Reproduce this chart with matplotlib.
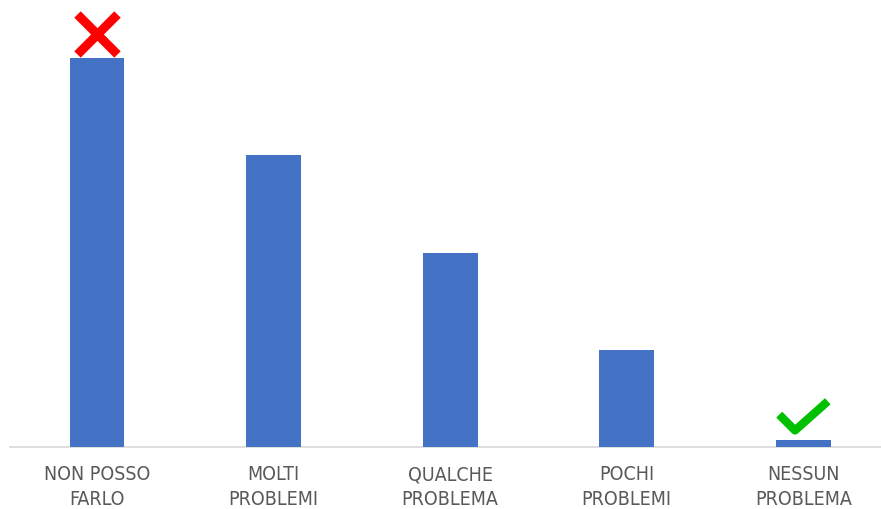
import matplotlib
matplotlib.use("Agg")
import matplotlib.pyplot as plt
from matplotlib.path import Path
from matplotlib.markers import MarkerStyle

categories = ["NON POSSO\nFARLO", "MOLTI\nPROBLEMI", "QUALCHE\nPROBLEMA", "POCHI\nPROBLEMI", "NESSUN\nPROBLEMA"]
values = [4.0, 3.0, 2.0, 1.0, 0.07]

fig = plt.figure(figsize=(8.81, 5.09), dpi=100)
ax = fig.add_axes([10/881, 1 - 447/509, 871/881, 447/509])
x = list(range(len(categories)))
ax.bar(x, values, width=0.31, color="#4472C4", zorder=3)
ax.set_xlim(-0.493, 4.44)
ax.set_ylim(0, 447/97.2)

for s in ["top", "right", "left"]:
    ax.spines[s].set_visible(False)
ax.spines["bottom"].set_color("#D9D9D9")
ax.spines["bottom"].set_linewidth(1.2)
ax.set_yticks([])
ax.set_xticks(x)
ax.set_xticklabels(categories, fontsize=14, color="#595959", linespacing=1.42,
                   family="DejaVu Sans", fontstretch="condensed")
ax.tick_params(axis="x", length=0, pad=13)

# red cross above first bar
ax.plot([x[0]], [values[0] + 0.25], marker="x", ms=29, mew=6.5, color="#FF0000",
        linestyle="none", clip_on=False, zorder=5)

# green check above last bar
check = Path([(-1.0, 0.2), (-0.35, -0.45), (1.0, 0.75)], [Path.MOVETO, Path.LINETO, Path.LINETO])
ax.plot([x[4]], [values[4] + 0.22], marker=MarkerStyle(check, fillstyle="none"), ms=35,
        mew=6, color="#00C000", linestyle="none", clip_on=False, zorder=5)

fig.savefig("out.png", dpi=100)
